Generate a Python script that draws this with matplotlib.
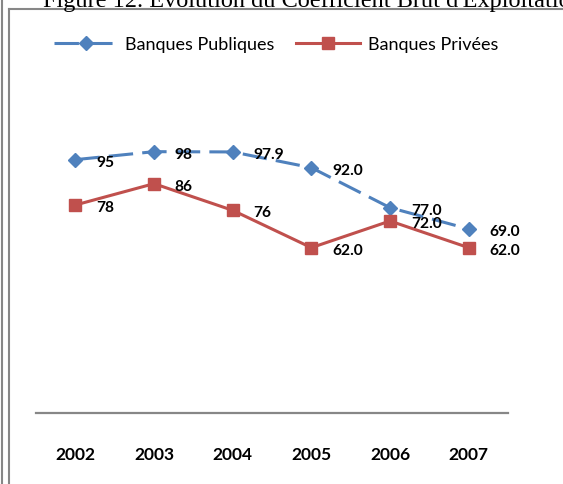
import matplotlib
matplotlib.use("Agg")
import matplotlib.pyplot as plt
from matplotlib.lines import Line2D

years = ["2002", "2003", "2004", "2005", "2006", "2007"]
publiques = [95, 98, 97.9, 92.0, 77.0, 69.0]
privees = [78, 86, 76, 62.0, 72.0, 62.0]
lab_pub = ["95", "98", "97.9", "92.0", "77.0", "69.0"]
lab_priv = ["78", "86", "76", "62.0", "72.0", "62.0"]

blue = "#4F81BD"
red = "#C0504D"
grey = "#878787"

W, H = 563, 485
fig = plt.figure(figsize=(W / 100, H / 100), dpi=100)
fig.patch.set_facecolor("white")

# page title, cut by the top edge (as in the reference)
fig.text(43 / W, 1 - 7 / H, "Figure 12. Evolution du Coefficient Brut d'Exploitation",
         family="Liberation Serif", fontsize=17.5, va="baseline", ha="left")

# frame lines
fig.add_artist(Line2D([2 / W, 2 / W], [0, 1], transform=fig.transFigure, color=grey, lw=1.5))
fig.add_artist(Line2D([9 / W, 9 / W], [0, 1 - 10 / H], transform=fig.transFigure, color=grey, lw=1.5))
fig.add_artist(Line2D([9 / W, 1], [1 - 10 / H, 1 - 10 / H], transform=fig.transFigure, color=grey, lw=1.5))

ax = fig.add_axes([36 / W, (H - 414) / H, 472 / W, 320 / H])
x = range(len(years))

l1, = ax.plot(x, publiques, color=blue, lw=2.2, linestyle=(0, (8, 3)),
              marker="D", markersize=7, label="Banques Publiques")
l2, = ax.plot(x, privees, color=red, lw=2.2, marker="s", markersize=8.5,
              label="Banques Privées")

for i in x:
    ax.annotate(lab_pub[i], (i, publiques[i]), xytext=(15, -1.5), textcoords="offset points",
                ha="left", va="center", fontsize=11.2, fontweight="bold", family="Lato")
    ax.annotate(lab_priv[i], (i, privees[i]), xytext=(15, -1.5), textcoords="offset points",
                ha="left", va="center", fontsize=11.2, fontweight="bold", family="Lato")

ax.set_xlim(-0.5, len(years) - 0.5)
ax.set_ylim(0, 120)
ax.set_xticks(list(x))
ax.set_xticklabels(years, fontsize=12.5, fontweight="bold", family="Lato")
ax.tick_params(axis="x", length=0, pad=24)
ax.set_yticks([])
for s in ["top", "right", "left"]:
    ax.spines[s].set_visible(False)
ax.spines["bottom"].set_color(grey)
ax.spines["bottom"].set_linewidth(1.6)

fig.legend(handles=[l1, l2], loc="center", bbox_to_anchor=(276 / W, 1 - 45 / H), ncol=2,
           frameon=False, prop={"family": "Lato", "size": 13}, handlelength=3.5,
           handletextpad=0.45, columnspacing=1.2)

fig.savefig("out.png", dpi=100)
